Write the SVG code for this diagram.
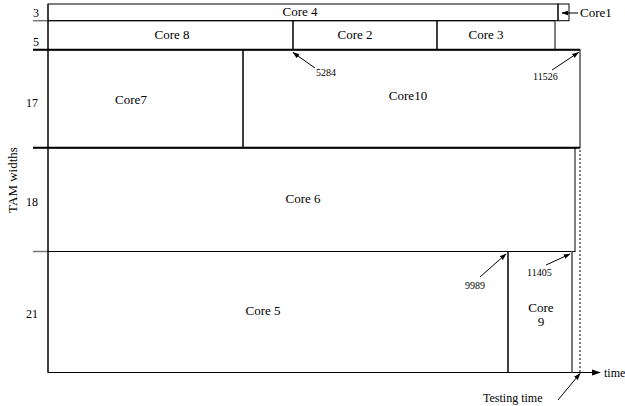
<svg xmlns="http://www.w3.org/2000/svg" width="625" height="406" viewBox="0 0 625 406" font-family="'Liberation Serif', 'Times New Roman', Tinos, 'DejaVu Serif', serif">
<style>
text{font-family:'Liberation Serif','Times New Roman','DejaVu Serif',serif;fill:#000}
.lbl{font-size:13px;text-anchor:middle}
.num{font-size:10px}
.ax{font-size:12px;text-anchor:middle}
.box{fill:none;stroke:#000;stroke-width:1}
.thin{stroke:#000;stroke-width:1;fill:none}
.thick{stroke:#000;stroke-width:2;fill:none}
.tick{stroke:#777;stroke-width:1.5}
</style>
<defs>
<marker id="ah" viewBox="0 0 10 10" refX="9" refY="5" markerWidth="7" markerHeight="7" orient="auto" markerUnits="userSpaceOnUse">
<path d="M0,1.5 L10,5 L0,8.5 z" fill="#000"/>
</marker>
<marker id="ahl" viewBox="0 0 10 10" refX="9" refY="5" markerWidth="9" markerHeight="9" orient="auto" markerUnits="userSpaceOnUse">
<path d="M0,1.5 L10,5 L0,8.5 z" fill="#000"/>
</marker>
</defs>

<g id="axes">
<line class="thin" x1="48" y1="4" x2="48" y2="372.5"/>
<line class="thin" x1="48" y1="372.5" x2="600" y2="372.5" marker-end="url(#ahl)"/>
<text x="604" y="377" font-size="12">time</text>
<line class="tick" x1="33" y1="20.7" x2="48" y2="20.7"/>
<line class="tick" x1="33" y1="49.7" x2="48" y2="49.7"/>
<line class="tick" x1="33" y1="147.7" x2="48" y2="147.7"/>
<line class="tick" x1="33" y1="251.5" x2="48" y2="251.5"/>
<text class="ax" x="36" y="17">3</text>
<text class="ax" x="36" y="46">5</text>
<text class="ax" x="32" y="107">17</text>
<text class="ax" x="32" y="206">18</text>
<text class="ax" x="32" y="318">21</text>
<text class="ax" font-size="13" style="font-size:13px" transform="translate(17,180) rotate(-90)">TAM widths</text>
<line x1="580" y1="150" x2="580" y2="372" stroke="#000" stroke-width="1" stroke-dasharray="2,2"/>
</g>

<g id="core4">
<rect class="box" x="48" y="4" width="510" height="16.7" stroke="#555"/>
<text class="lbl" x="300" y="16">Core 4</text>
</g>
<g id="core1">
<rect class="box" x="558" y="4" width="11" height="16.7"/>
<text x="580" y="17" font-size="13">Core1</text>
</g>
<g id="core8">
<rect class="box" x="48" y="20.7" width="245" height="29"/>
<text class="lbl" x="172" y="39">Core 8</text>
</g>
<g id="core2">
<rect class="box" x="293" y="20.7" width="144" height="29"/>
<text class="lbl" x="355" y="39">Core 2</text>
</g>
<g id="core3">
<rect class="box" x="437" y="20.7" width="118" height="29"/>
<text class="lbl" x="486" y="39">Core 3</text>
</g>
<g id="core7">
<rect class="box" x="48" y="49.7" width="195" height="98"/>
<text class="lbl" x="131" y="104">Core7</text>
</g>
<g id="core10">
<rect class="box" x="243" y="49.7" width="337" height="98"/>
<text class="lbl" x="408" y="100">Core10</text>
</g>
<g id="core6">
<rect class="box" x="48" y="147.7" width="527" height="103.8"/>
<text class="lbl" x="303" y="203">Core 6</text>
</g>
<g id="core5">
<rect class="box" x="48" y="251.5" width="460" height="121"/>
<text class="lbl" x="263" y="315">Core 5</text>
</g>
<g id="core9">
<rect class="box" x="508" y="251.5" width="64" height="121"/>
<line x1="572" y1="251.5" x2="572" y2="372.5" stroke="#777" stroke-width="2"/>
<text class="lbl" x="541" y="312">Core</text>
<text class="lbl" x="541" y="326">9</text>
</g>

<g id="emphasis">
<line class="thick" x1="33" y1="49.7" x2="580" y2="49.7"/>
<line class="thick" x1="33" y1="147.7" x2="580" y2="147.7"/>
</g>

<g id="connectors">
<line class="thin" x1="578" y1="13" x2="562" y2="13" marker-end="url(#ah)"/>
<line class="thin" x1="315" y1="68" x2="293" y2="52.5" marker-end="url(#ah)"/>
<line class="thin" x1="552" y1="70" x2="578.5" y2="52.5" marker-end="url(#ah)"/>
<line class="thin" x1="480" y1="277" x2="506" y2="254" marker-end="url(#ah)"/>
<line class="thin" x1="546" y1="265" x2="570" y2="254" marker-end="url(#ah)"/>
<line class="thin" x1="558" y1="400" x2="580" y2="373.5" marker-end="url(#ah)"/>
</g>

<g id="annotations">
<text class="num" x="316" y="76">5284</text>
<text class="num" x="533" y="80">11526</text>
<text class="num" x="465" y="289">9989</text>
<text class="num" x="527" y="276">11405</text>
<text x="483" y="402" font-size="12">Testing time</text>
</g>
</svg>
